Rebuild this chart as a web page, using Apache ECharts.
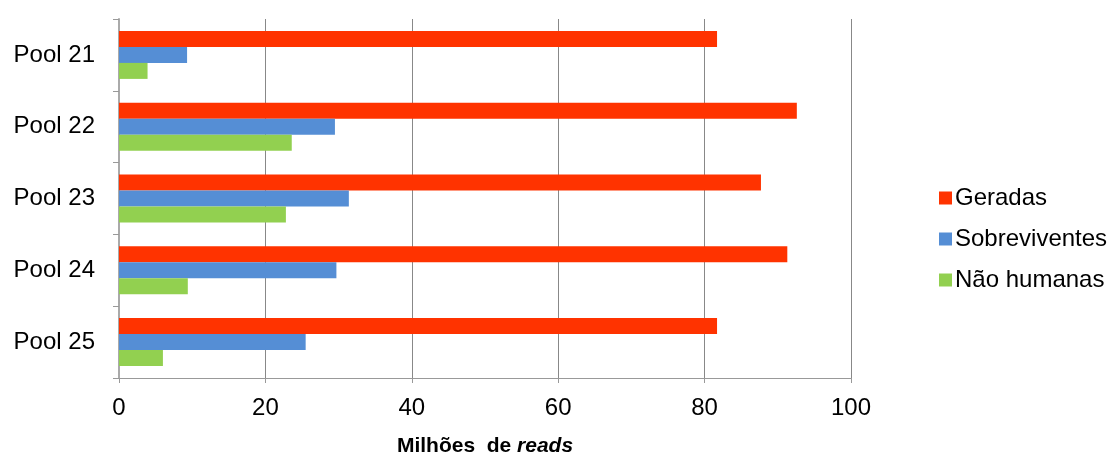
<!DOCTYPE html>
<html>
<head>
<meta charset="utf-8">
<script src="https://cdn.jsdelivr.net/npm/echarts@6/dist/echarts.min.js"></script>
<style>
  html, body { margin: 0; padding: 0; background: #fff; }
  #chart { width: 1113px; height: 456px; }
</style>
</head>
<body>
<div id="chart"></div>
<script>
// Sequencing read counts per pool, in millions
const categories = ['Pool 21', 'Pool 22', 'Pool 23', 'Pool 24', 'Pool 25'];
const geradas = [81.7, 92.6, 87.7, 91.3, 81.7];
const sobreviventes = [9.3, 29.5, 31.4, 29.7, 25.5];
const naoHumanas = [3.9, 23.6, 22.8, 9.4, 6.0];
const xTicks = [0, 20, 40, 60, 80, 100];

const font = 'Liberation Sans, Arial, sans-serif';
const chart = echarts.init(document.getElementById('chart'));

chart.setOption({
  animation: false,
  textStyle: { fontFamily: font },
  grid: { left: 119, right: 262, top: 19, bottom: 78, outerBoundsMode: 'none', containLabel: false },
  legend: {
    orient: 'vertical',
    left: 934,
    top: 181,
    icon: 'rect',
    itemWidth: 13,
    itemHeight: 13,
    itemGap: 17,
    textStyle: { fontSize: 24, color: '#000', fontFamily: font, padding: [0, 0, 0, -2] },
    data: ['Geradas', 'Sobreviventes', 'Não humanas']
  },
  xAxis: {
    type: 'value',
    min: xTicks[0],
    max: xTicks[xTicks.length - 1],
    interval: 20,
    axisLine: { show: true, lineStyle: { color: '#999', width: 1 } },
    axisTick: { show: true, length: 5, lineStyle: { color: '#999' } },
    axisLabel: { fontSize: 24, color: '#000', margin: 18, fontFamily: font },
    splitLine: { show: true, lineStyle: { color: '#888', width: 1 } },
    name: '{b|Milhões  de }{bi|reads}',
    nameLocation: 'middle',
    nameGap: 58,
    nameTextStyle: {
      rich: {
        b: { fontSize: 21, fontWeight: 'bold', color: '#000', fontFamily: font },
        bi: { fontSize: 21, fontWeight: 'bold', fontStyle: 'italic', color: '#000', fontFamily: font }
      }
    }
  },
  yAxis: {
    type: 'category',
    inverse: true,
    data: categories,
    axisLine: { show: true, lineStyle: { color: '#aaa', width: 2 } },
    axisTick: { show: true, length: 6, lineStyle: { color: '#999' } },
    axisLabel: { fontSize: 24, color: '#000', margin: 24, fontFamily: font },
    splitLine: { show: false }
  },
  series: [
    { name: 'Geradas', type: 'bar', data: geradas, barWidth: 16, barGap: '0%',
      itemStyle: { color: '#FF3300' } },
    { name: 'Sobreviventes', type: 'bar', data: sobreviventes, barWidth: 16, barGap: '0%',
      itemStyle: { color: '#558ED5' } },
    { name: 'Não humanas', type: 'bar', data: naoHumanas, barWidth: 16, barGap: '0%',
      itemStyle: { color: '#92D050' } }
  ]
});
</script>
</body>
</html>
